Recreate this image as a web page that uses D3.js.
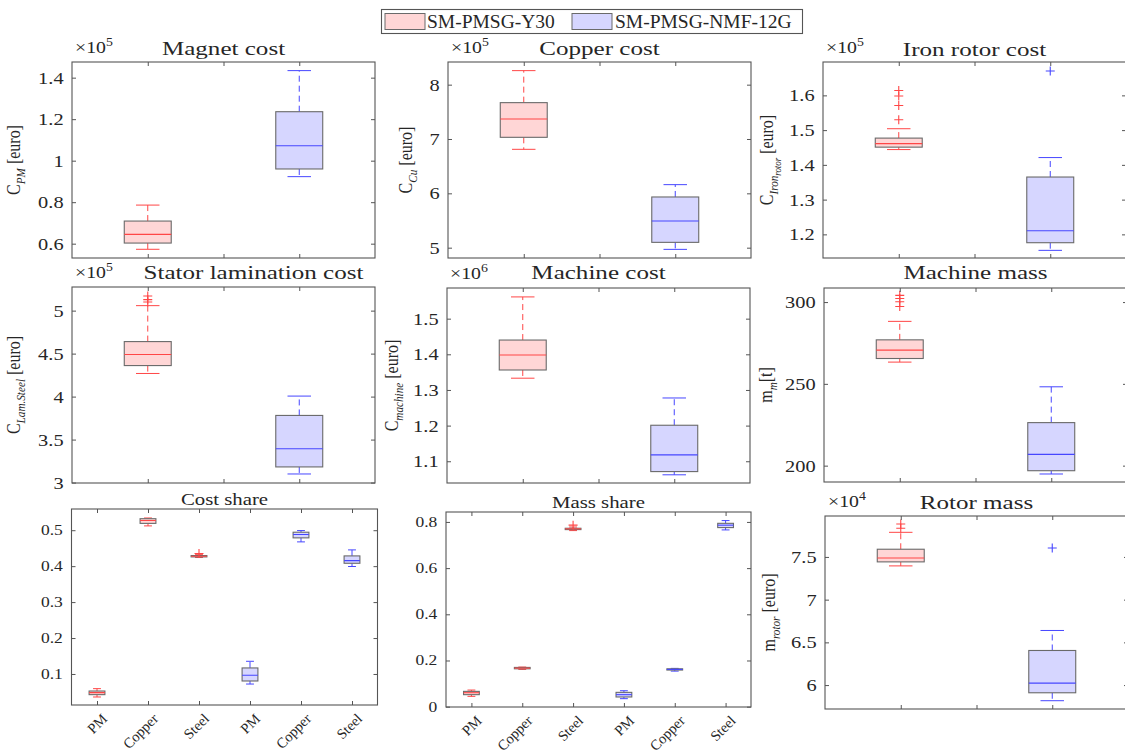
<!DOCTYPE html>
<html><head><meta charset="utf-8">
<script src="https://cdn.jsdelivr.net/npm/d3@7"></script>
<style>
body{margin:0;background:#fff}
svg{display:block}
text{font-family:"Liberation Serif","Times New Roman",serif;fill:#262626}
</style>
</head><body>
<svg id="c" width="1125" height="754"></svg>
<script>
// ---------------- DATA (box stats: [lowerWhisker, Q1, median, Q3, upperWhisker]) ----------------
const groupNames = ["SM-PMSG-Y30", "SM-PMSG-NMF-12G"];
const shareCategories = ["PM", "Copper", "Steel", "PM", "Copper", "Steel"];

// Magnet cost (x1e5 euro)
const magnetCostY30 = [0.573, 0.603, 0.645, 0.709, 0.786];
const magnetCostNMF = [0.923, 0.960, 1.072, 1.236, 1.434];
const magnetTicks = [0.6, 0.8, 1, 1.2, 1.4];

// Copper cost (x1e5 euro)
const copperCostY30 = [6.81, 7.031, 7.368, 7.669, 8.258];
const copperCostNMF = [4.969, 5.098, 5.491, 5.933, 6.16];
const copperTicks = [5, 6, 7, 8];

// Iron rotor cost (x1e5 euro)
const ironCostY30 = [1.444, 1.451, 1.461, 1.477, 1.504];
const ironCostNMF = [1.154, 1.176, 1.2106, 1.365, 1.421];
const ironOutY30 = [1.530, 1.571, 1.598, 1.614];
const ironOutNMF = [1.670];
const ironTicks = [1.2, 1.3, 1.4, 1.5, 1.6];

// Stator lamination cost (x1e5 euro)
const statorCostY30 = [4.269, 4.361, 4.489, 4.640, 5.058];
const statorCostNMF = [3.10, 3.182, 3.394, 3.781, 4.006];
const statorOutY30 = [5.10, 5.128, 5.170];
const statorTicks = [3, 3.5, 4, 4.5, 5];

// Machine cost (x1e6 euro)
const machineCostY30 = [1.333, 1.356, 1.398, 1.44, 1.561];
const machineCostNMF = [1.062, 1.071, 1.118, 1.201, 1.2775];
const machineCostTicks = [1.1, 1.2, 1.3, 1.4, 1.5];

// Machine mass (t)
const machineMassY30 = [263.3, 265.5, 270.6, 276.9, 288.2];
const machineMassNMF = [194.9, 196.9, 206.9, 226.3, 248.2];
const machineMassOutY30 = [297.3, 300.2, 302.2, 304.1];
const machineMassTicks = [200, 250, 300];

// Cost share (PM, Copper, Steel for Y30 then NMF-12G)
const costShare = [
  [0.036, 0.0425, 0.048, 0.0526, 0.0592],
  [0.512, 0.519, 0.527, 0.532, 0.534],
  [0.424, 0.4257, 0.4276, 0.4295, 0.432],
  [0.072, 0.0805, 0.0964, 0.1168, 0.1353],
  [0.4675, 0.4787, 0.488, 0.4944, 0.499],
  [0.399, 0.408, 0.4155, 0.4285, 0.4452]
];
const costShareOut = [[], [], [0.435], [], [], []];
const costShareTicks = [0.1, 0.2, 0.3, 0.4, 0.5];

// Mass share
const massShare = [
  [0.0447, 0.052, 0.0605, 0.0663, 0.072],
  [0.1614, 0.164, 0.167, 0.170, 0.1715],
  [0.7625, 0.7668, 0.77, 0.7726, 0.778],
  [0.0346, 0.042, 0.052, 0.062, 0.069],
  [0.154, 0.1586, 0.1614, 0.164, 0.1658],
  [0.7654, 0.7755, 0.786, 0.794, 0.8058]
];
const massShareOut = [[], [], [0.786], [], [], []];
const massShareTicks = [0, 0.2, 0.4, 0.6, 0.8];

// Rotor mass (x1e4)
const rotorMassY30 = [7.395, 7.442, 7.488, 7.59, 7.788];
const rotorMassNMF = [5.817, 5.91, 6.023, 6.405, 6.639];
const rotorOutY30 = [7.835, 7.886];
const rotorOutNMF = [7.605];
const rotorTicks = [6, 6.5, 7, 7.5];

// ---------------- STYLE ----------------
const RED = {fill: "#ffd6d6", line: "#ff4646"};
const BLUE = {fill: "#d6d6ff", line: "#4646ff"};
const FRAME = "#555555";

const svg = d3.select("#c");

function richText(parent, x, y, parts, o) {
  const size = o.size, sx = o.sx || 1, sy = o.sy || 1;
  let tr = `translate(${x},${y})`;
  if (o.rotate) tr += ` rotate(${o.rotate})`;
  if (sx !== 1 || sy !== 1) tr += ` scale(${sx},${sy})`;
  const t = parent.append("text").attr("transform", tr)
    .attr("text-anchor", o.anchor || "start").style("font-size", size + "px");
  let cur = 0;
  parts.forEach(p => {
    const lvl = p.lvl || 0;
    let off = 0, fs = size;
    if (lvl === 1) { off = 0.25 * size; fs = 0.7 * size; }
    if (lvl === 2) { off = 0.42 * size; fs = 0.55 * size; }
    if (lvl === -1) { off = -0.42 * size; fs = 0.7 * size; }
    t.append("tspan").attr("dy", (off - cur).toFixed(2))
      .style("font-size", fs + "px")
      .style("font-style", p.it ? "italic" : "normal")
      .text(p.t);
    cur = off;
  });
  return t;
}

function fmt(d) { return String(+d.toFixed(3)); }

function drawPanel(cfg) {
  const g = svg.append("g").attr("transform", `translate(${cfg.left},${cfg.top})`);
  const n = cfg.boxes.length;
  const x = d3.scaleLinear().domain([0.5, n + 0.5]).range([0, cfg.w]);
  const y = d3.scaleLinear().domain(cfg.ydom).range([cfg.h, 0]);
  const unit = x(2) - x(1);
  const bw = 0.31 * unit, cw = bw / 2;

  const clip = "clip" + Math.random().toString(36).slice(2);
  g.append("clipPath").attr("id", clip).append("rect").attr("width", cfg.w).attr("height", cfg.h);
  const plot = g.append("g").attr("clip-path", `url(#${clip})`);

  cfg.boxes.forEach((b, i) => {
    const cx = x(i + 1), s = b.stats, col = b.color;
    const bg = plot.append("g");
    bg.append("line").attr("x1", cx).attr("x2", cx).attr("y1", y(s[3])).attr("y2", y(s[4]))
      .attr("stroke", col.line).attr("stroke-dasharray", "6,4").attr("stroke-width", 1);
    bg.append("line").attr("x1", cx).attr("x2", cx).attr("y1", y(s[1])).attr("y2", y(s[0]))
      .attr("stroke", col.line).attr("stroke-dasharray", "6,4").attr("stroke-width", 1);
    [s[0], s[4]].forEach(v => bg.append("line").attr("x1", cx - cw / 2).attr("x2", cx + cw / 2)
      .attr("y1", y(v)).attr("y2", y(v)).attr("stroke", col.line).attr("stroke-width", 1));
    bg.append("rect").attr("x", cx - bw / 2).attr("width", bw)
      .attr("y", y(s[3])).attr("height", Math.max(0.8, y(s[1]) - y(s[3])))
      .attr("fill", col.fill).attr("stroke", "#6a6a6a").attr("stroke-width", 1.1);
    bg.append("line").attr("x1", cx - bw / 2).attr("x2", cx + bw / 2)
      .attr("y1", y(s[2])).attr("y2", y(s[2])).attr("stroke", col.line).attr("stroke-width", 1.1);
    (b.out || []).forEach(v => {
      const py = y(v), r = 4.5;
      bg.append("path").attr("d", `M${cx - r},${py}H${cx + r}M${cx},${py - r}V${py + r}`)
        .attr("stroke", col.line).attr("stroke-width", 1.1).attr("fill", "none");
    });
  });

  const tl = 4;
  const ya = g.append("g").call(d3.axisLeft(y).tickValues(cfg.ticks).tickSizeInner(-tl).tickSizeOuter(0)
    .tickPadding(cfg.tickPad || 7).tickFormat(fmt));
  ya.select(".domain").remove();
  ya.selectAll(".tick line").attr("stroke", FRAME);
  ya.selectAll(".tick text").style("font-size", cfg.tickSize + "px")
    .attr("transform", `scale(${cfg.tickSx},1)`).style("font-family", null).attr("fill", "#262626");
  const yr = g.append("g").attr("transform", `translate(${cfg.w},0)`)
    .call(d3.axisRight(y).tickValues(cfg.ticks).tickSizeInner(-tl).tickSizeOuter(0).tickFormat(""));
  yr.select(".domain").remove();
  yr.selectAll(".tick line").attr("stroke", FRAME);

  const xticks = cfg.xticks;
  const xa = g.append("g").attr("transform", `translate(0,${cfg.h})`)
    .call(d3.axisBottom(x).tickValues(xticks).tickSizeInner(-tl).tickSizeOuter(0)
      .tickFormat(cfg.xlabels ? (d => cfg.xlabels[d - 1]) : ""));
  xa.select(".domain").remove();
  xa.selectAll(".tick line").attr("stroke", FRAME);
  if (cfg.xlabels) {
    xa.selectAll(".tick text").attr("x", 0).attr("y", 0).attr("dy", "0.35em")
      .attr("text-anchor", "end").style("font-size", "14.5px").style("font-family", null)
      .attr("fill", "#262626")
      .attr("transform", "translate(7,11) rotate(-45)");
  }
  const xt = g.append("g")
    .call(d3.axisTop(x).tickValues(xticks).tickSizeInner(-tl).tickSizeOuter(0).tickFormat(""));
  xt.select(".domain").remove();
  xt.selectAll(".tick line").attr("stroke", FRAME);

  g.append("rect").attr("width", cfg.w).attr("height", cfg.h)
    .attr("fill", "none").attr("stroke", FRAME).attr("stroke-width", 1.1);

  richText(g, cfg.w / 2 + (cfg.titleDx || 0), -cfg.titleGap, [{t: cfg.title}],
    {size: cfg.titleSize, sx: cfg.titleSx, anchor: "middle"});
  if (cfg.exp) {
    richText(g, 3, -9, [{t: "×10"}, {t: cfg.exp, lvl: -1}], {size: 16.5, sx: 1.2});
  }
  if (cfg.ylabel) {
    richText(g, -cfg.ylabelOff, cfg.h / 2, cfg.ylabel, {size: 16, rotate: -90, anchor: "middle", sy: 1.15});
  }
}

const two = [1, 1.5, 2];
const six = [1, 2, 3, 4, 5, 6];
const top3 = {titleSize: 19, titleSx: 1.32, tickSize: 17, tickSx: 1.2, titleGap: 7};

const panels = [
  Object.assign({}, top3, {left: 72, top: 62, w: 303, h: 196, ydom: [0.531, 1.4755], ticks: magnetTicks, xticks: two,
    title: "Magnet cost", exp: "5", ylabelOff: 52,
    ylabel: [{t: "C"}, {t: "PM", lvl: 1, it: true}, {t: " [euro]"}],
    boxes: [{stats: magnetCostY30, color: RED}, {stats: magnetCostNMF, color: BLUE}]}),
  Object.assign({}, top3, {left: 448, top: 62, w: 303, h: 196, ydom: [4.81, 8.417], ticks: copperTicks, xticks: two,
    title: "Copper cost", exp: "5", ylabelOff: 36,
    ylabel: [{t: "C"}, {t: "Cu", lvl: 1, it: true}, {t: " [euro]"}],
    boxes: [{stats: copperCostY30, color: RED}, {stats: copperCostNMF, color: BLUE}]}),
  Object.assign({}, top3, {left: 823, top: 62, w: 303, h: 196, ydom: [1.132, 1.696], ticks: ironTicks, xticks: two,
    title: "Iron rotor cost", exp: "5", ylabelOff: 50, titleGap: 6,
    ylabel: [{t: "C"}, {t: "Iron", lvl: 1, it: true}, {t: "rotor", lvl: 2, it: true}, {t: " [euro]"}],
    boxes: [{stats: ironCostY30, color: RED, out: ironOutY30}, {stats: ironCostNMF, color: BLUE, out: ironOutNMF}]}),
  Object.assign({}, top3, {left: 72, top: 287, w: 303, h: 196, ydom: [2.995, 5.275], ticks: statorTicks, xticks: two,
    title: "Stator lamination cost", exp: "5", ylabelOff: 52, titleDx: 30, titleGap: 8.5,
    ylabel: [{t: "C"}, {t: "Lam.Steel", lvl: 1, it: true}, {t: " [euro]"}],
    boxes: [{stats: statorCostY30, color: RED, out: statorOutY30}, {stats: statorCostNMF, color: BLUE}]}),
  Object.assign({}, top3, {left: 447, top: 288, w: 303, h: 195, ydom: [1.039, 1.586], ticks: machineCostTicks, xticks: two,
    title: "Machine cost", exp: "6", ylabelOff: 49, titleGap: 9,
    ylabel: [{t: "C"}, {t: "machine", lvl: 1, it: true}, {t: " [euro]"}],
    boxes: [{stats: machineCostY30, color: RED}, {stats: machineCostNMF, color: BLUE}]}),
  Object.assign({}, top3, {left: 824, top: 288, w: 303, h: 194, ydom: [190, 308.6], ticks: machineMassTicks, xticks: two,
    title: "Machine mass", ylabelOff: 52, titleGap: 9,
    ylabel: [{t: "m"}, {t: "m", lvl: 1, it: true}, {t: "[t]"}],
    boxes: [{stats: machineMassY30, color: RED, out: machineMassOutY30}, {stats: machineMassNMF, color: BLUE}]}),
  {left: 71.5, top: 509, w: 306, h: 196, ydom: [0.0137, 0.559], ticks: costShareTicks, xticks: six,
    title: "Cost share", titleSize: 16, titleSx: 1.3, titleGap: 4, tickSize: 14, tickSx: 1.25,
    xlabels: shareCategories,
    boxes: costShare.map((s, i) => ({stats: s, color: i < 3 ? RED : BLUE, out: costShareOut[i]}))},
  {left: 446, top: 512, w: 305, h: 195, ydom: [-0.0014, 0.843], ticks: massShareTicks, xticks: six,
    title: "Mass share", titleSize: 16, titleSx: 1.3, titleGap: 4, tickSize: 14, tickSx: 1.25,
    xlabels: shareCategories,
    boxes: massShare.map((s, i) => ({stats: s, color: i < 3 ? RED : BLUE, out: massShareOut[i]}))},
  Object.assign({}, top3, {left: 825, top: 516, w: 303, h: 193, ydom: [5.72, 7.979], ticks: rotorTicks, xticks: two,
    title: "Rotor mass", exp: "4", ylabelOff: 50, titleGap: 7,
    ylabel: [{t: "m"}, {t: "rotor", lvl: 1, it: true}, {t: " [euro]"}],
    boxes: [{stats: rotorMassY30, color: RED, out: rotorOutY30}, {stats: rotorMassNMF, color: BLUE, out: rotorOutNMF}]})
];

panels.forEach(drawPanel);

// ---------------- LEGEND ----------------
const lg = svg.append("g");
lg.append("rect").attr("x", 381.5).attr("y", 9.5).attr("width", 421).attr("height", 24)
  .attr("fill", "#fff").attr("stroke", FRAME).attr("stroke-width", 1.1);
const legendItems = [
  {name: groupNames[0], color: RED, sx: 385, tx: 427},
  {name: groupNames[1], color: BLUE, sx: 572, tx: 615}
];
legendItems.forEach(it => {
  lg.append("rect").attr("x", it.sx).attr("y", 13.5).attr("width", 40).attr("height", 16)
    .attr("fill", it.color.fill).attr("stroke", "#6a6a6a").attr("stroke-width", 1);
  lg.append("text").attr("x", it.tx).attr("y", 28.3).style("font-size", "19.5px").text(it.name);
});
</script>
</body></html>
